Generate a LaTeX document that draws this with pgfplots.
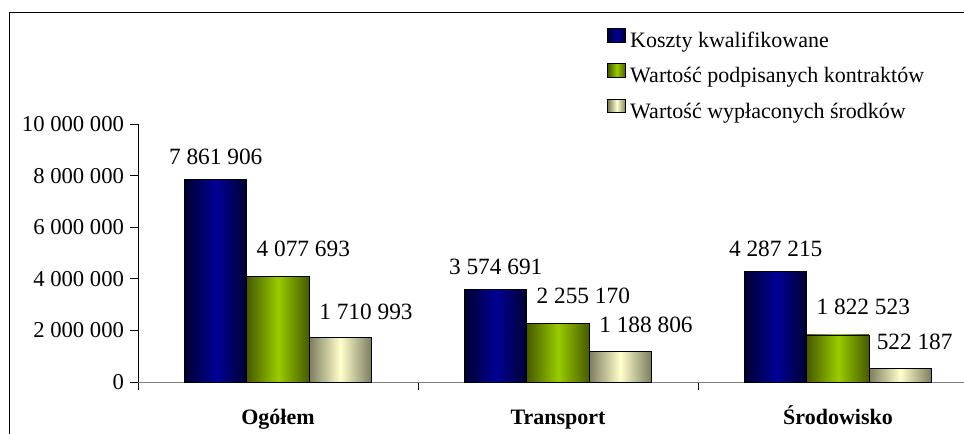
\documentclass[border=0pt]{standalone}
\usepackage{fontspec}
\setmainfont{Liberation Serif}
\usepackage{pgfplots}
\pgfplotsset{compat=1.18}
\definecolor{bluedark}{HTML}{000030}
\definecolor{bluemid}{HTML}{000096}
\definecolor{greendark}{HTML}{475A00}
\definecolor{greenmid}{HTML}{99CC00}
\definecolor{creamdark}{HTML}{7C7C60}
\definecolor{creammid}{HTML}{FFFFCC}
\pgfplotsset{
  sA/.style={ybar, bar width=46.7pt, bar shift=-46.7pt, draw=black, line width=0.6pt,
    left color=bluedark, right color=bluedark, middle color=bluemid,
    nodes near coords, nodes near coords style={yshift=11.25pt, xshift=-46.7pt}},
  sB/.style={ybar, bar width=46.7pt, bar shift=0pt, draw=black, line width=0.6pt,
    left color=greendark, right color=greendark, middle color=greenmid,
    nodes near coords, nodes near coords style={yshift=15pt, xshift=19pt}},
  sC/.style={ybar, bar width=46.7pt, bar shift=46.7pt, draw=black, line width=0.6pt,
    left color=creamdark, right color=creamdark, middle color=creammid,
    nodes near coords, nodes near coords style={yshift=14pt, xshift=66pt}},
}
\begin{document}
\begin{tikzpicture}[x=0.75pt,y=0.75pt]
\path[use as bounding box] (0,0) rectangle (964,434);
\draw[line width=1.1pt] (9.5,-5) -- (9.5,421.3) -- (975,421.3);
\begin{axis}[
  at={(103.5pt,39pt)}, anchor=south west, scale only axis,
  width=619.5pt, height=193.5pt,
  xmin=-0.5, xmax=2.45, ymin=0, ymax=10000000,
  clip=false,
  axis lines*=left,
  x axis line style={draw=gray},
  y axis line style={draw=black},
  tick align=outside,
  major tick length=6pt,
  every tick/.style={draw=black, line width=0.6pt},
  ytick={0,2000000,4000000,6000000,8000000,10000000},
  yticklabels={0,{2 000 000},{4 000 000},{6 000 000},{8 000 000},{10 000 000}},
  scaled ticks=false,
  yticklabel style={font=\fontsize{17}{20}\selectfont, xshift=-1pt},
  xtick={-0.5,0.5,1.5},
  xticklabels={},
  extra x ticks={0,1,2},
  extra x tick labels={Ogółem,Transport,Środowisko},
  extra x tick style={major tick length=0pt, xticklabel style={font=\bfseries\fontsize{16.5}{20}\selectfont, anchor=base, yshift=-32pt}},
  point meta=explicit symbolic,
  every node near coord/.append style={font=\fontsize{17.5}{20}\selectfont, anchor=base, inner sep=0pt},
  legend style={at={(0.568,1.372)}, anchor=north west, draw=none, fill=none, inner sep=0pt,
    font=\fontsize{16.5}{20}\selectfont, row sep=8.25pt,
    /tikz/every odd column/.append style={column sep=1pt}},
  legend cell align=left,
  legend image code/.code={\draw[#1,draw=black,line width=0.6pt] (0pt,-1pt) rectangle (13.5pt,9.3pt);},
]
% legend-carrying bars (Ogółem)
\addplot[sA] coordinates {(0,7861906) [7 861 906]};
\addlegendentry{Koszty kwalifikowane}
\addplot[sB] coordinates {(0,4077693) [4 077 693]};
\addlegendentry{Wartość podpisanych kontraktów}
\addplot[sC] coordinates {(0,1710993) [1 710 993]};
\addlegendentry{Wartość wypłaconych środków}
% Transport
\addplot[sA, forget plot] coordinates {(1,3574691) [3 574 691]};
\addplot[sB, forget plot] coordinates {(1,2255170) [2 255 170]};
\addplot[sC, forget plot] coordinates {(1,1188806) [1 188 806]};
% Środowisko
\addplot[sA, forget plot] coordinates {(2,4287215) [4 287 215]};
\addplot[sB, forget plot] coordinates {(2,1822523) [1 822 523]};
\addplot[sC, forget plot, nodes near coords style={xshift=-8.5pt}] coordinates {(2,522187) [522 187]};
\end{axis}
\end{tikzpicture}
\end{document}
